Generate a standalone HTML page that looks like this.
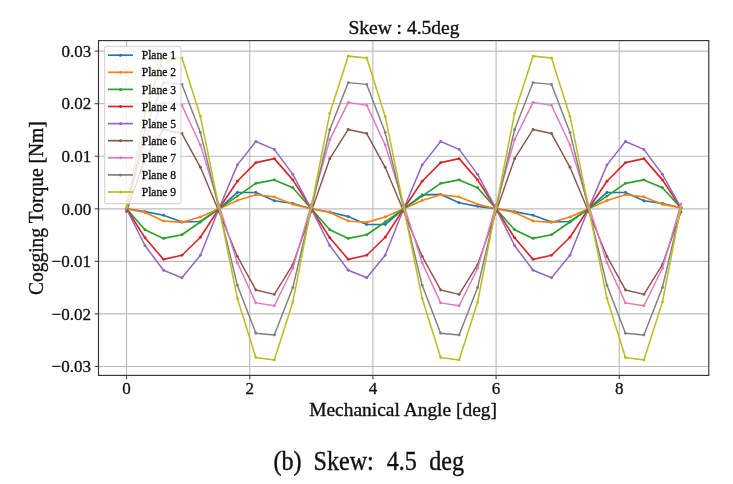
<!DOCTYPE html>
<html><head><meta charset="utf-8"><title>Skew 4.5deg</title>
<style>html,body{margin:0;padding:0;background:#fff;}body{width:733px;height:484px;overflow:hidden;position:relative;font-family:"Liberation Serif",serif;}</style>
</head><body>
<svg width="733" height="484" viewBox="0 0 733 484" style="position:absolute;left:0;top:0">
<defs><filter id="bl" x="0" y="0" width="100%" height="100%" filterUnits="userSpaceOnUse"><feGaussianBlur stdDeviation="0.35"/></filter></defs>
<g filter="url(#bl)">
<rect x="0" y="0" width="733" height="484" fill="#fff"/>
<g stroke="#bcbcbc" stroke-width="1.15" fill="none"><line x1="126.50" y1="40.6" x2="126.50" y2="375.4"/><line x1="249.70" y1="40.6" x2="249.70" y2="375.4"/><line x1="372.90" y1="40.6" x2="372.90" y2="375.4"/><line x1="496.10" y1="40.6" x2="496.10" y2="375.4"/><line x1="619.30" y1="40.6" x2="619.30" y2="375.4"/><line x1="98.5" y1="366.48" x2="708.8" y2="366.48"/><line x1="98.5" y1="313.92" x2="708.8" y2="313.92"/><line x1="98.5" y1="261.36" x2="708.8" y2="261.36"/><line x1="98.5" y1="208.80" x2="708.8" y2="208.80"/><line x1="98.5" y1="156.24" x2="708.8" y2="156.24"/><line x1="98.5" y1="103.68" x2="708.8" y2="103.68"/><line x1="98.5" y1="51.12" x2="708.8" y2="51.12"/></g>
<clipPath id="c"><rect x="98.5" y="40.6" width="610.3" height="334.79999999999995"/></clipPath>
<g clip-path="url(#c)">
<polyline points="126.50,208.80 144.98,211.59 163.46,215.26 181.94,222.05 200.42,221.52 218.90,208.80 237.38,192.45 255.86,192.45 274.34,200.71 292.82,203.54 311.30,208.80 329.78,211.95 348.26,216.58 366.74,224.52 385.22,224.52 403.70,208.80 422.18,194.92 440.66,194.40 459.14,202.70 477.62,206.33 496.10,208.80 514.58,211.59 533.06,215.26 551.54,222.05 570.02,221.52 588.50,208.80 606.98,192.45 625.46,192.45 643.94,200.71 662.42,203.54 680.90,207.75" fill="none" stroke="#1f77b4" stroke-width="1.65" stroke-linejoin="round" stroke-linecap="square"/>
<g fill="#1f77b4"><circle cx="126.50" cy="208.80" r="1.45"/><circle cx="144.98" cy="211.59" r="1.45"/><circle cx="163.46" cy="215.26" r="1.45"/><circle cx="181.94" cy="222.05" r="1.45"/><circle cx="200.42" cy="221.52" r="1.45"/><circle cx="218.90" cy="208.80" r="1.45"/><circle cx="237.38" cy="192.45" r="1.45"/><circle cx="255.86" cy="192.45" r="1.45"/><circle cx="274.34" cy="200.71" r="1.45"/><circle cx="292.82" cy="203.54" r="1.45"/><circle cx="311.30" cy="208.80" r="1.45"/><circle cx="329.78" cy="211.95" r="1.45"/><circle cx="348.26" cy="216.58" r="1.45"/><circle cx="366.74" cy="224.52" r="1.45"/><circle cx="385.22" cy="224.52" r="1.45"/><circle cx="403.70" cy="208.80" r="1.45"/><circle cx="422.18" cy="194.92" r="1.45"/><circle cx="440.66" cy="194.40" r="1.45"/><circle cx="459.14" cy="202.70" r="1.45"/><circle cx="477.62" cy="206.33" r="1.45"/><circle cx="496.10" cy="208.80" r="1.45"/><circle cx="514.58" cy="211.59" r="1.45"/><circle cx="533.06" cy="215.26" r="1.45"/><circle cx="551.54" cy="222.05" r="1.45"/><circle cx="570.02" cy="221.52" r="1.45"/><circle cx="588.50" cy="208.80" r="1.45"/><circle cx="606.98" cy="192.45" r="1.45"/><circle cx="625.46" cy="192.45" r="1.45"/><circle cx="643.94" cy="200.71" r="1.45"/><circle cx="662.42" cy="203.54" r="1.45"/><circle cx="680.90" cy="207.75" r="1.45"/></g>
<polyline points="126.50,208.80 144.98,212.43 163.46,221.05 181.94,222.36 200.42,217.05 218.90,208.80 237.38,200.55 255.86,194.77 274.34,196.92 292.82,204.33 311.30,208.80 329.78,212.43 348.26,221.05 366.74,222.36 385.22,217.05 403.70,208.80 422.18,200.55 440.66,194.77 459.14,196.92 477.62,204.33 496.10,208.80 514.58,212.43 533.06,221.05 551.54,222.36 570.02,217.05 588.50,208.80 606.98,200.55 625.46,194.77 643.94,196.92 662.42,204.33 680.90,207.75" fill="none" stroke="#ff7f0e" stroke-width="1.65" stroke-linejoin="round" stroke-linecap="square"/>
<g fill="#ff7f0e"><circle cx="126.50" cy="208.80" r="1.45"/><circle cx="144.98" cy="212.43" r="1.45"/><circle cx="163.46" cy="221.05" r="1.45"/><circle cx="181.94" cy="222.36" r="1.45"/><circle cx="200.42" cy="217.05" r="1.45"/><circle cx="218.90" cy="208.80" r="1.45"/><circle cx="237.38" cy="200.55" r="1.45"/><circle cx="255.86" cy="194.77" r="1.45"/><circle cx="274.34" cy="196.92" r="1.45"/><circle cx="292.82" cy="204.33" r="1.45"/><circle cx="311.30" cy="208.80" r="1.45"/><circle cx="329.78" cy="212.43" r="1.45"/><circle cx="348.26" cy="221.05" r="1.45"/><circle cx="366.74" cy="222.36" r="1.45"/><circle cx="385.22" cy="217.05" r="1.45"/><circle cx="403.70" cy="208.80" r="1.45"/><circle cx="422.18" cy="200.55" r="1.45"/><circle cx="440.66" cy="194.77" r="1.45"/><circle cx="459.14" cy="196.92" r="1.45"/><circle cx="477.62" cy="204.33" r="1.45"/><circle cx="496.10" cy="208.80" r="1.45"/><circle cx="514.58" cy="212.43" r="1.45"/><circle cx="533.06" cy="221.05" r="1.45"/><circle cx="551.54" cy="222.36" r="1.45"/><circle cx="570.02" cy="217.05" r="1.45"/><circle cx="588.50" cy="208.80" r="1.45"/><circle cx="606.98" cy="200.55" r="1.45"/><circle cx="625.46" cy="194.77" r="1.45"/><circle cx="643.94" cy="196.92" r="1.45"/><circle cx="662.42" cy="204.33" r="1.45"/><circle cx="680.90" cy="207.75" r="1.45"/></g>
<polyline points="126.50,208.80 144.98,229.82 163.46,238.39 181.94,234.76 200.42,222.05 218.90,208.80 237.38,196.08 255.86,183.36 274.34,179.89 292.82,187.78 311.30,208.80 329.78,229.82 348.26,238.39 366.74,234.76 385.22,222.05 403.70,208.80 422.18,196.08 440.66,183.36 459.14,179.89 477.62,187.78 496.10,208.80 514.58,229.82 533.06,238.39 551.54,234.76 570.02,222.05 588.50,208.80 606.98,196.08 625.46,183.36 643.94,179.89 662.42,187.78 680.90,207.75" fill="none" stroke="#2ca02c" stroke-width="1.65" stroke-linejoin="round" stroke-linecap="square"/>
<g fill="#2ca02c"><circle cx="126.50" cy="208.80" r="1.45"/><circle cx="144.98" cy="229.82" r="1.45"/><circle cx="163.46" cy="238.39" r="1.45"/><circle cx="181.94" cy="234.76" r="1.45"/><circle cx="200.42" cy="222.05" r="1.45"/><circle cx="218.90" cy="208.80" r="1.45"/><circle cx="237.38" cy="196.08" r="1.45"/><circle cx="255.86" cy="183.36" r="1.45"/><circle cx="274.34" cy="179.89" r="1.45"/><circle cx="292.82" cy="187.78" r="1.45"/><circle cx="311.30" cy="208.80" r="1.45"/><circle cx="329.78" cy="229.82" r="1.45"/><circle cx="348.26" cy="238.39" r="1.45"/><circle cx="366.74" cy="234.76" r="1.45"/><circle cx="385.22" cy="222.05" r="1.45"/><circle cx="403.70" cy="208.80" r="1.45"/><circle cx="422.18" cy="196.08" r="1.45"/><circle cx="440.66" cy="183.36" r="1.45"/><circle cx="459.14" cy="179.89" r="1.45"/><circle cx="477.62" cy="187.78" r="1.45"/><circle cx="496.10" cy="208.80" r="1.45"/><circle cx="514.58" cy="229.82" r="1.45"/><circle cx="533.06" cy="238.39" r="1.45"/><circle cx="551.54" cy="234.76" r="1.45"/><circle cx="570.02" cy="222.05" r="1.45"/><circle cx="588.50" cy="208.80" r="1.45"/><circle cx="606.98" cy="196.08" r="1.45"/><circle cx="625.46" cy="183.36" r="1.45"/><circle cx="643.94" cy="179.89" r="1.45"/><circle cx="662.42" cy="187.78" r="1.45"/><circle cx="680.90" cy="207.75" r="1.45"/></g>
<polyline points="126.50,208.80 144.98,237.71 163.46,259.36 181.94,255.26 200.42,237.23 218.90,208.80 237.38,181.21 255.86,162.65 274.34,158.61 292.82,179.89 311.30,208.80 329.78,237.71 348.26,259.36 366.74,255.26 385.22,237.23 403.70,208.80 422.18,181.21 440.66,162.65 459.14,158.61 477.62,179.89 496.10,208.80 514.58,237.71 533.06,259.36 551.54,255.26 570.02,237.23 588.50,208.80 606.98,181.21 625.46,162.65 643.94,158.61 662.42,179.89 680.90,207.75" fill="none" stroke="#d62728" stroke-width="1.65" stroke-linejoin="round" stroke-linecap="square"/>
<g fill="#d62728"><circle cx="126.50" cy="208.80" r="1.45"/><circle cx="144.98" cy="237.71" r="1.45"/><circle cx="163.46" cy="259.36" r="1.45"/><circle cx="181.94" cy="255.26" r="1.45"/><circle cx="200.42" cy="237.23" r="1.45"/><circle cx="218.90" cy="208.80" r="1.45"/><circle cx="237.38" cy="181.21" r="1.45"/><circle cx="255.86" cy="162.65" r="1.45"/><circle cx="274.34" cy="158.61" r="1.45"/><circle cx="292.82" cy="179.89" r="1.45"/><circle cx="311.30" cy="208.80" r="1.45"/><circle cx="329.78" cy="237.71" r="1.45"/><circle cx="348.26" cy="259.36" r="1.45"/><circle cx="366.74" cy="255.26" r="1.45"/><circle cx="385.22" cy="237.23" r="1.45"/><circle cx="403.70" cy="208.80" r="1.45"/><circle cx="422.18" cy="181.21" r="1.45"/><circle cx="440.66" cy="162.65" r="1.45"/><circle cx="459.14" cy="158.61" r="1.45"/><circle cx="477.62" cy="179.89" r="1.45"/><circle cx="496.10" cy="208.80" r="1.45"/><circle cx="514.58" cy="237.71" r="1.45"/><circle cx="533.06" cy="259.36" r="1.45"/><circle cx="551.54" cy="255.26" r="1.45"/><circle cx="570.02" cy="237.23" r="1.45"/><circle cx="588.50" cy="208.80" r="1.45"/><circle cx="606.98" cy="181.21" r="1.45"/><circle cx="625.46" cy="162.65" r="1.45"/><circle cx="643.94" cy="158.61" r="1.45"/><circle cx="662.42" cy="179.89" r="1.45"/><circle cx="680.90" cy="207.75" r="1.45"/></g>
<polyline points="126.50,208.80 144.98,245.49 163.46,270.30 181.94,277.76 200.42,255.26 218.90,208.80 237.38,164.91 255.86,141.52 274.34,149.41 292.82,174.37 311.30,208.80 329.78,245.49 348.26,270.30 366.74,277.76 385.22,255.26 403.70,208.80 422.18,164.91 440.66,141.52 459.14,149.41 477.62,174.37 496.10,208.80 514.58,245.49 533.06,270.30 551.54,277.76 570.02,255.26 588.50,208.80 606.98,164.91 625.46,141.52 643.94,149.41 662.42,174.37 680.90,207.75" fill="none" stroke="#9467bd" stroke-width="1.5" stroke-linejoin="round" stroke-linecap="square"/>
<g fill="#9467bd"><circle cx="126.50" cy="208.80" r="1.45"/><circle cx="144.98" cy="245.49" r="1.45"/><circle cx="163.46" cy="270.30" r="1.45"/><circle cx="181.94" cy="277.76" r="1.45"/><circle cx="200.42" cy="255.26" r="1.45"/><circle cx="218.90" cy="208.80" r="1.45"/><circle cx="237.38" cy="164.91" r="1.45"/><circle cx="255.86" cy="141.52" r="1.45"/><circle cx="274.34" cy="149.41" r="1.45"/><circle cx="292.82" cy="174.37" r="1.45"/><circle cx="311.30" cy="208.80" r="1.45"/><circle cx="329.78" cy="245.49" r="1.45"/><circle cx="348.26" cy="270.30" r="1.45"/><circle cx="366.74" cy="277.76" r="1.45"/><circle cx="385.22" cy="255.26" r="1.45"/><circle cx="403.70" cy="208.80" r="1.45"/><circle cx="422.18" cy="164.91" r="1.45"/><circle cx="440.66" cy="141.52" r="1.45"/><circle cx="459.14" cy="149.41" r="1.45"/><circle cx="477.62" cy="174.37" r="1.45"/><circle cx="496.10" cy="208.80" r="1.45"/><circle cx="514.58" cy="245.49" r="1.45"/><circle cx="533.06" cy="270.30" r="1.45"/><circle cx="551.54" cy="277.76" r="1.45"/><circle cx="570.02" cy="255.26" r="1.45"/><circle cx="588.50" cy="208.80" r="1.45"/><circle cx="606.98" cy="164.91" r="1.45"/><circle cx="625.46" cy="141.52" r="1.45"/><circle cx="643.94" cy="149.41" r="1.45"/><circle cx="662.42" cy="174.37" r="1.45"/><circle cx="680.90" cy="207.75" r="1.45"/></g>
<polyline points="126.50,211.43 144.98,158.71 163.46,129.43 181.94,133.53 200.42,167.28 218.90,211.43 237.38,256.42 255.86,289.95 274.34,294.42 292.82,264.67 311.30,211.43 329.78,158.71 348.26,129.43 366.74,133.53 385.22,167.28 403.70,211.43 422.18,256.42 440.66,289.95 459.14,294.42 477.62,264.67 496.10,211.43 514.58,158.71 533.06,129.43 551.54,133.53 570.02,167.28 588.50,211.43 606.98,256.42 625.46,289.95 643.94,294.42 662.42,264.67 680.90,211.95" fill="none" stroke="#8c564b" stroke-width="1.45" stroke-linejoin="round" stroke-linecap="square"/>
<g fill="#8c564b"><circle cx="126.50" cy="211.43" r="1.45"/><circle cx="144.98" cy="158.71" r="1.45"/><circle cx="163.46" cy="129.43" r="1.45"/><circle cx="181.94" cy="133.53" r="1.45"/><circle cx="200.42" cy="167.28" r="1.45"/><circle cx="218.90" cy="211.43" r="1.45"/><circle cx="237.38" cy="256.42" r="1.45"/><circle cx="255.86" cy="289.95" r="1.45"/><circle cx="274.34" cy="294.42" r="1.45"/><circle cx="292.82" cy="264.67" r="1.45"/><circle cx="311.30" cy="211.43" r="1.45"/><circle cx="329.78" cy="158.71" r="1.45"/><circle cx="348.26" cy="129.43" r="1.45"/><circle cx="366.74" cy="133.53" r="1.45"/><circle cx="385.22" cy="167.28" r="1.45"/><circle cx="403.70" cy="211.43" r="1.45"/><circle cx="422.18" cy="256.42" r="1.45"/><circle cx="440.66" cy="289.95" r="1.45"/><circle cx="459.14" cy="294.42" r="1.45"/><circle cx="477.62" cy="264.67" r="1.45"/><circle cx="496.10" cy="211.43" r="1.45"/><circle cx="514.58" cy="158.71" r="1.45"/><circle cx="533.06" cy="129.43" r="1.45"/><circle cx="551.54" cy="133.53" r="1.45"/><circle cx="570.02" cy="167.28" r="1.45"/><circle cx="588.50" cy="211.43" r="1.45"/><circle cx="606.98" cy="256.42" r="1.45"/><circle cx="625.46" cy="289.95" r="1.45"/><circle cx="643.94" cy="294.42" r="1.45"/><circle cx="662.42" cy="264.67" r="1.45"/><circle cx="680.90" cy="211.95" r="1.45"/></g>
<polyline points="126.50,208.80 144.98,139.68 163.46,102.37 181.94,105.36 200.42,144.99 218.90,204.60 237.38,262.67 255.86,302.88 274.34,305.72 292.82,268.30 311.30,204.60 329.78,139.68 348.26,102.37 366.74,105.36 385.22,144.99 403.70,204.60 422.18,262.67 440.66,302.88 459.14,305.72 477.62,268.30 496.10,204.60 514.58,139.68 533.06,102.37 551.54,105.36 570.02,144.99 588.50,204.60 606.98,262.67 625.46,302.88 643.94,305.72 662.42,268.30 680.90,204.07" fill="none" stroke="#e377c2" stroke-width="1.45" stroke-linejoin="round" stroke-linecap="square"/>
<g fill="#e377c2"><circle cx="126.50" cy="208.80" r="1.45"/><circle cx="144.98" cy="139.68" r="1.45"/><circle cx="163.46" cy="102.37" r="1.45"/><circle cx="181.94" cy="105.36" r="1.45"/><circle cx="200.42" cy="144.99" r="1.45"/><circle cx="218.90" cy="204.60" r="1.45"/><circle cx="237.38" cy="262.67" r="1.45"/><circle cx="255.86" cy="302.88" r="1.45"/><circle cx="274.34" cy="305.72" r="1.45"/><circle cx="292.82" cy="268.30" r="1.45"/><circle cx="311.30" cy="204.60" r="1.45"/><circle cx="329.78" cy="139.68" r="1.45"/><circle cx="348.26" cy="102.37" r="1.45"/><circle cx="366.74" cy="105.36" r="1.45"/><circle cx="385.22" cy="144.99" r="1.45"/><circle cx="403.70" cy="204.60" r="1.45"/><circle cx="422.18" cy="262.67" r="1.45"/><circle cx="440.66" cy="302.88" r="1.45"/><circle cx="459.14" cy="305.72" r="1.45"/><circle cx="477.62" cy="268.30" r="1.45"/><circle cx="496.10" cy="204.60" r="1.45"/><circle cx="514.58" cy="139.68" r="1.45"/><circle cx="533.06" cy="102.37" r="1.45"/><circle cx="551.54" cy="105.36" r="1.45"/><circle cx="570.02" cy="144.99" r="1.45"/><circle cx="588.50" cy="204.60" r="1.45"/><circle cx="606.98" cy="262.67" r="1.45"/><circle cx="625.46" cy="302.88" r="1.45"/><circle cx="643.94" cy="305.72" r="1.45"/><circle cx="662.42" cy="268.30" r="1.45"/><circle cx="680.90" cy="204.07" r="1.45"/></g>
<polyline points="126.50,208.80 144.98,129.75 163.46,82.60 181.94,84.39 200.42,132.59 218.90,208.80 237.38,285.33 255.86,333.31 274.34,334.94 292.82,287.48 311.30,208.80 329.78,129.75 348.26,82.60 366.74,84.39 385.22,132.59 403.70,208.80 422.18,285.33 440.66,333.31 459.14,334.94 477.62,287.48 496.10,208.80 514.58,129.75 533.06,82.60 551.54,84.39 570.02,132.59 588.50,208.80 606.98,285.33 625.46,333.31 643.94,334.94 662.42,287.48 680.90,208.80" fill="none" stroke="#7f7f7f" stroke-width="1.45" stroke-linejoin="round" stroke-linecap="square"/>
<g fill="#7f7f7f"><circle cx="126.50" cy="208.80" r="1.45"/><circle cx="144.98" cy="129.75" r="1.45"/><circle cx="163.46" cy="82.60" r="1.45"/><circle cx="181.94" cy="84.39" r="1.45"/><circle cx="200.42" cy="132.59" r="1.45"/><circle cx="218.90" cy="208.80" r="1.45"/><circle cx="237.38" cy="285.33" r="1.45"/><circle cx="255.86" cy="333.31" r="1.45"/><circle cx="274.34" cy="334.94" r="1.45"/><circle cx="292.82" cy="287.48" r="1.45"/><circle cx="311.30" cy="208.80" r="1.45"/><circle cx="329.78" cy="129.75" r="1.45"/><circle cx="348.26" cy="82.60" r="1.45"/><circle cx="366.74" cy="84.39" r="1.45"/><circle cx="385.22" cy="132.59" r="1.45"/><circle cx="403.70" cy="208.80" r="1.45"/><circle cx="422.18" cy="285.33" r="1.45"/><circle cx="440.66" cy="333.31" r="1.45"/><circle cx="459.14" cy="334.94" r="1.45"/><circle cx="477.62" cy="287.48" r="1.45"/><circle cx="496.10" cy="208.80" r="1.45"/><circle cx="514.58" cy="129.75" r="1.45"/><circle cx="533.06" cy="82.60" r="1.45"/><circle cx="551.54" cy="84.39" r="1.45"/><circle cx="570.02" cy="132.59" r="1.45"/><circle cx="588.50" cy="208.80" r="1.45"/><circle cx="606.98" cy="285.33" r="1.45"/><circle cx="625.46" cy="333.31" r="1.45"/><circle cx="643.94" cy="334.94" r="1.45"/><circle cx="662.42" cy="287.48" r="1.45"/><circle cx="680.90" cy="208.80" r="1.45"/></g>
<polyline points="126.50,207.22 144.98,113.30 163.46,56.11 181.94,57.95 200.42,116.45 218.90,207.22 237.38,298.41 255.86,357.44 274.34,359.91 292.82,301.99 311.30,207.22 329.78,113.30 348.26,56.11 366.74,57.95 385.22,116.45 403.70,207.22 422.18,298.41 440.66,357.44 459.14,359.91 477.62,301.99 496.10,207.22 514.58,113.30 533.06,56.11 551.54,57.95 570.02,116.45 588.50,207.22 606.98,298.41 625.46,357.44 643.94,359.91 662.42,301.99 680.90,207.22" fill="none" stroke="#bcbd22" stroke-width="1.55" stroke-linejoin="round" stroke-linecap="square"/>
<g fill="#bcbd22"><circle cx="126.50" cy="207.22" r="1.45"/><circle cx="144.98" cy="113.30" r="1.45"/><circle cx="163.46" cy="56.11" r="1.45"/><circle cx="181.94" cy="57.95" r="1.45"/><circle cx="200.42" cy="116.45" r="1.45"/><circle cx="218.90" cy="207.22" r="1.45"/><circle cx="237.38" cy="298.41" r="1.45"/><circle cx="255.86" cy="357.44" r="1.45"/><circle cx="274.34" cy="359.91" r="1.45"/><circle cx="292.82" cy="301.99" r="1.45"/><circle cx="311.30" cy="207.22" r="1.45"/><circle cx="329.78" cy="113.30" r="1.45"/><circle cx="348.26" cy="56.11" r="1.45"/><circle cx="366.74" cy="57.95" r="1.45"/><circle cx="385.22" cy="116.45" r="1.45"/><circle cx="403.70" cy="207.22" r="1.45"/><circle cx="422.18" cy="298.41" r="1.45"/><circle cx="440.66" cy="357.44" r="1.45"/><circle cx="459.14" cy="359.91" r="1.45"/><circle cx="477.62" cy="301.99" r="1.45"/><circle cx="496.10" cy="207.22" r="1.45"/><circle cx="514.58" cy="113.30" r="1.45"/><circle cx="533.06" cy="56.11" r="1.45"/><circle cx="551.54" cy="57.95" r="1.45"/><circle cx="570.02" cy="116.45" r="1.45"/><circle cx="588.50" cy="207.22" r="1.45"/><circle cx="606.98" cy="298.41" r="1.45"/><circle cx="625.46" cy="357.44" r="1.45"/><circle cx="643.94" cy="359.91" r="1.45"/><circle cx="662.42" cy="301.99" r="1.45"/><circle cx="680.90" cy="207.22" r="1.45"/></g>
</g>
<rect x="98.5" y="40.6" width="610.3" height="334.79999999999995" fill="none" stroke="#333" stroke-width="1.15"/>
<g stroke="#444" stroke-width="1.1"><line x1="126.50" y1="375.4" x2="126.50" y2="379.2"/><line x1="249.70" y1="375.4" x2="249.70" y2="379.2"/><line x1="372.90" y1="375.4" x2="372.90" y2="379.2"/><line x1="496.10" y1="375.4" x2="496.10" y2="379.2"/><line x1="619.30" y1="375.4" x2="619.30" y2="379.2"/><line x1="94.7" y1="366.48" x2="98.5" y2="366.48"/><line x1="94.7" y1="313.92" x2="98.5" y2="313.92"/><line x1="94.7" y1="261.36" x2="98.5" y2="261.36"/><line x1="94.7" y1="208.80" x2="98.5" y2="208.80"/><line x1="94.7" y1="156.24" x2="98.5" y2="156.24"/><line x1="94.7" y1="103.68" x2="98.5" y2="103.68"/><line x1="94.7" y1="51.12" x2="98.5" y2="51.12"/></g>
<g font-family="Liberation Serif, serif" font-size="17.0" fill="#111" stroke="#111" stroke-width="0.3">
<text transform="translate(126.50,394.4) scale(1,1.0)" text-anchor="middle">0</text>
<text transform="translate(249.70,394.4) scale(1,1.0)" text-anchor="middle">2</text>
<text transform="translate(372.90,394.4) scale(1,1.0)" text-anchor="middle">4</text>
<text transform="translate(496.10,394.4) scale(1,1.0)" text-anchor="middle">6</text>
<text transform="translate(619.30,394.4) scale(1,1.0)" text-anchor="middle">8</text>
<text transform="translate(90.9,372.28) scale(1,1.0)" text-anchor="end">−0.03</text>
<text transform="translate(90.9,319.72) scale(1,1.0)" text-anchor="end">−0.02</text>
<text transform="translate(90.9,267.16) scale(1,1.0)" text-anchor="end">−0.01</text>
<text transform="translate(91.3,214.60) scale(1,1.0)" text-anchor="end">0.00</text>
<text transform="translate(91.3,162.04) scale(1,1.0)" text-anchor="end">0.01</text>
<text transform="translate(91.3,109.48) scale(1,1.0)" text-anchor="end">0.02</text>
<text transform="translate(91.3,56.92) scale(1,1.0)" text-anchor="end">0.03</text>
</g>
<g font-family="Liberation Serif, serif" fill="#111" stroke="#111" stroke-width="0.35">
<text transform="translate(403.9,34.1) scale(1,1.0)" font-size="19.5" text-anchor="middle">Skew : 4.5deg</text>
<text transform="translate(403.1,415.9) scale(1,1.0)" font-size="19.45" text-anchor="middle">Mechanical Angle [deg]</text>
<text transform="translate(42.8,208.2) rotate(-90) scale(1,1.07)" font-size="19.5" text-anchor="middle">Cogging Torque [Nm]</text>
<text transform="translate(273.4,470) scale(1,1.09)" font-size="24.1">(b)</text>
<text transform="translate(313.6,470) scale(1,1.09)" font-size="24.1">Skew:</text>
<text transform="translate(386.7,470) scale(1,1.09)" font-size="24.1">4.5</text>
<text transform="translate(429.2,470) scale(1,1.09)" font-size="24.1">deg</text>
</g>
<rect x="104.6" y="46.4" width="76.3" height="157.2" rx="2.2" ry="2.2" fill="#fff" fill-opacity="0.8" stroke="#ccc" stroke-opacity="0.8" stroke-width="1.1"/>
<g font-family="Liberation Serif, serif" font-size="11.6" fill="#111" stroke="#111" stroke-width="0.3">
<line x1="108" y1="55.20" x2="133" y2="55.20" stroke="#1f77b4" stroke-width="1.7"/>
<circle cx="120.5" cy="55.20" r="1.5" fill="#1f77b4" stroke="none"/>
<text transform="translate(141.7,59.30) scale(1,1.06)">Plane 1</text>
<line x1="108" y1="72.30" x2="133" y2="72.30" stroke="#ff7f0e" stroke-width="1.7"/>
<circle cx="120.5" cy="72.30" r="1.5" fill="#ff7f0e" stroke="none"/>
<text transform="translate(141.7,76.40) scale(1,1.06)">Plane 2</text>
<line x1="108" y1="89.40" x2="133" y2="89.40" stroke="#2ca02c" stroke-width="1.7"/>
<circle cx="120.5" cy="89.40" r="1.5" fill="#2ca02c" stroke="none"/>
<text transform="translate(141.7,93.50) scale(1,1.06)">Plane 3</text>
<line x1="108" y1="106.50" x2="133" y2="106.50" stroke="#d62728" stroke-width="1.7"/>
<circle cx="120.5" cy="106.50" r="1.5" fill="#d62728" stroke="none"/>
<text transform="translate(141.7,110.60) scale(1,1.06)">Plane 4</text>
<line x1="108" y1="123.60" x2="133" y2="123.60" stroke="#9467bd" stroke-width="1.7"/>
<circle cx="120.5" cy="123.60" r="1.5" fill="#9467bd" stroke="none"/>
<text transform="translate(141.7,127.70) scale(1,1.06)">Plane 5</text>
<line x1="108" y1="140.70" x2="133" y2="140.70" stroke="#8c564b" stroke-width="1.7"/>
<circle cx="120.5" cy="140.70" r="1.5" fill="#8c564b" stroke="none"/>
<text transform="translate(141.7,144.80) scale(1,1.06)">Plane 6</text>
<line x1="108" y1="157.80" x2="133" y2="157.80" stroke="#e377c2" stroke-width="1.7"/>
<circle cx="120.5" cy="157.80" r="1.5" fill="#e377c2" stroke="none"/>
<text transform="translate(141.7,161.90) scale(1,1.06)">Plane 7</text>
<line x1="108" y1="174.90" x2="133" y2="174.90" stroke="#7f7f7f" stroke-width="1.7"/>
<circle cx="120.5" cy="174.90" r="1.5" fill="#7f7f7f" stroke="none"/>
<text transform="translate(141.7,179.00) scale(1,1.06)">Plane 8</text>
<line x1="108" y1="192.00" x2="133" y2="192.00" stroke="#bcbd22" stroke-width="1.7"/>
<circle cx="120.5" cy="192.00" r="1.5" fill="#bcbd22" stroke="none"/>
<text transform="translate(141.7,196.10) scale(1,1.06)">Plane 9</text>
</g>
</g>
</svg>
</body></html>
